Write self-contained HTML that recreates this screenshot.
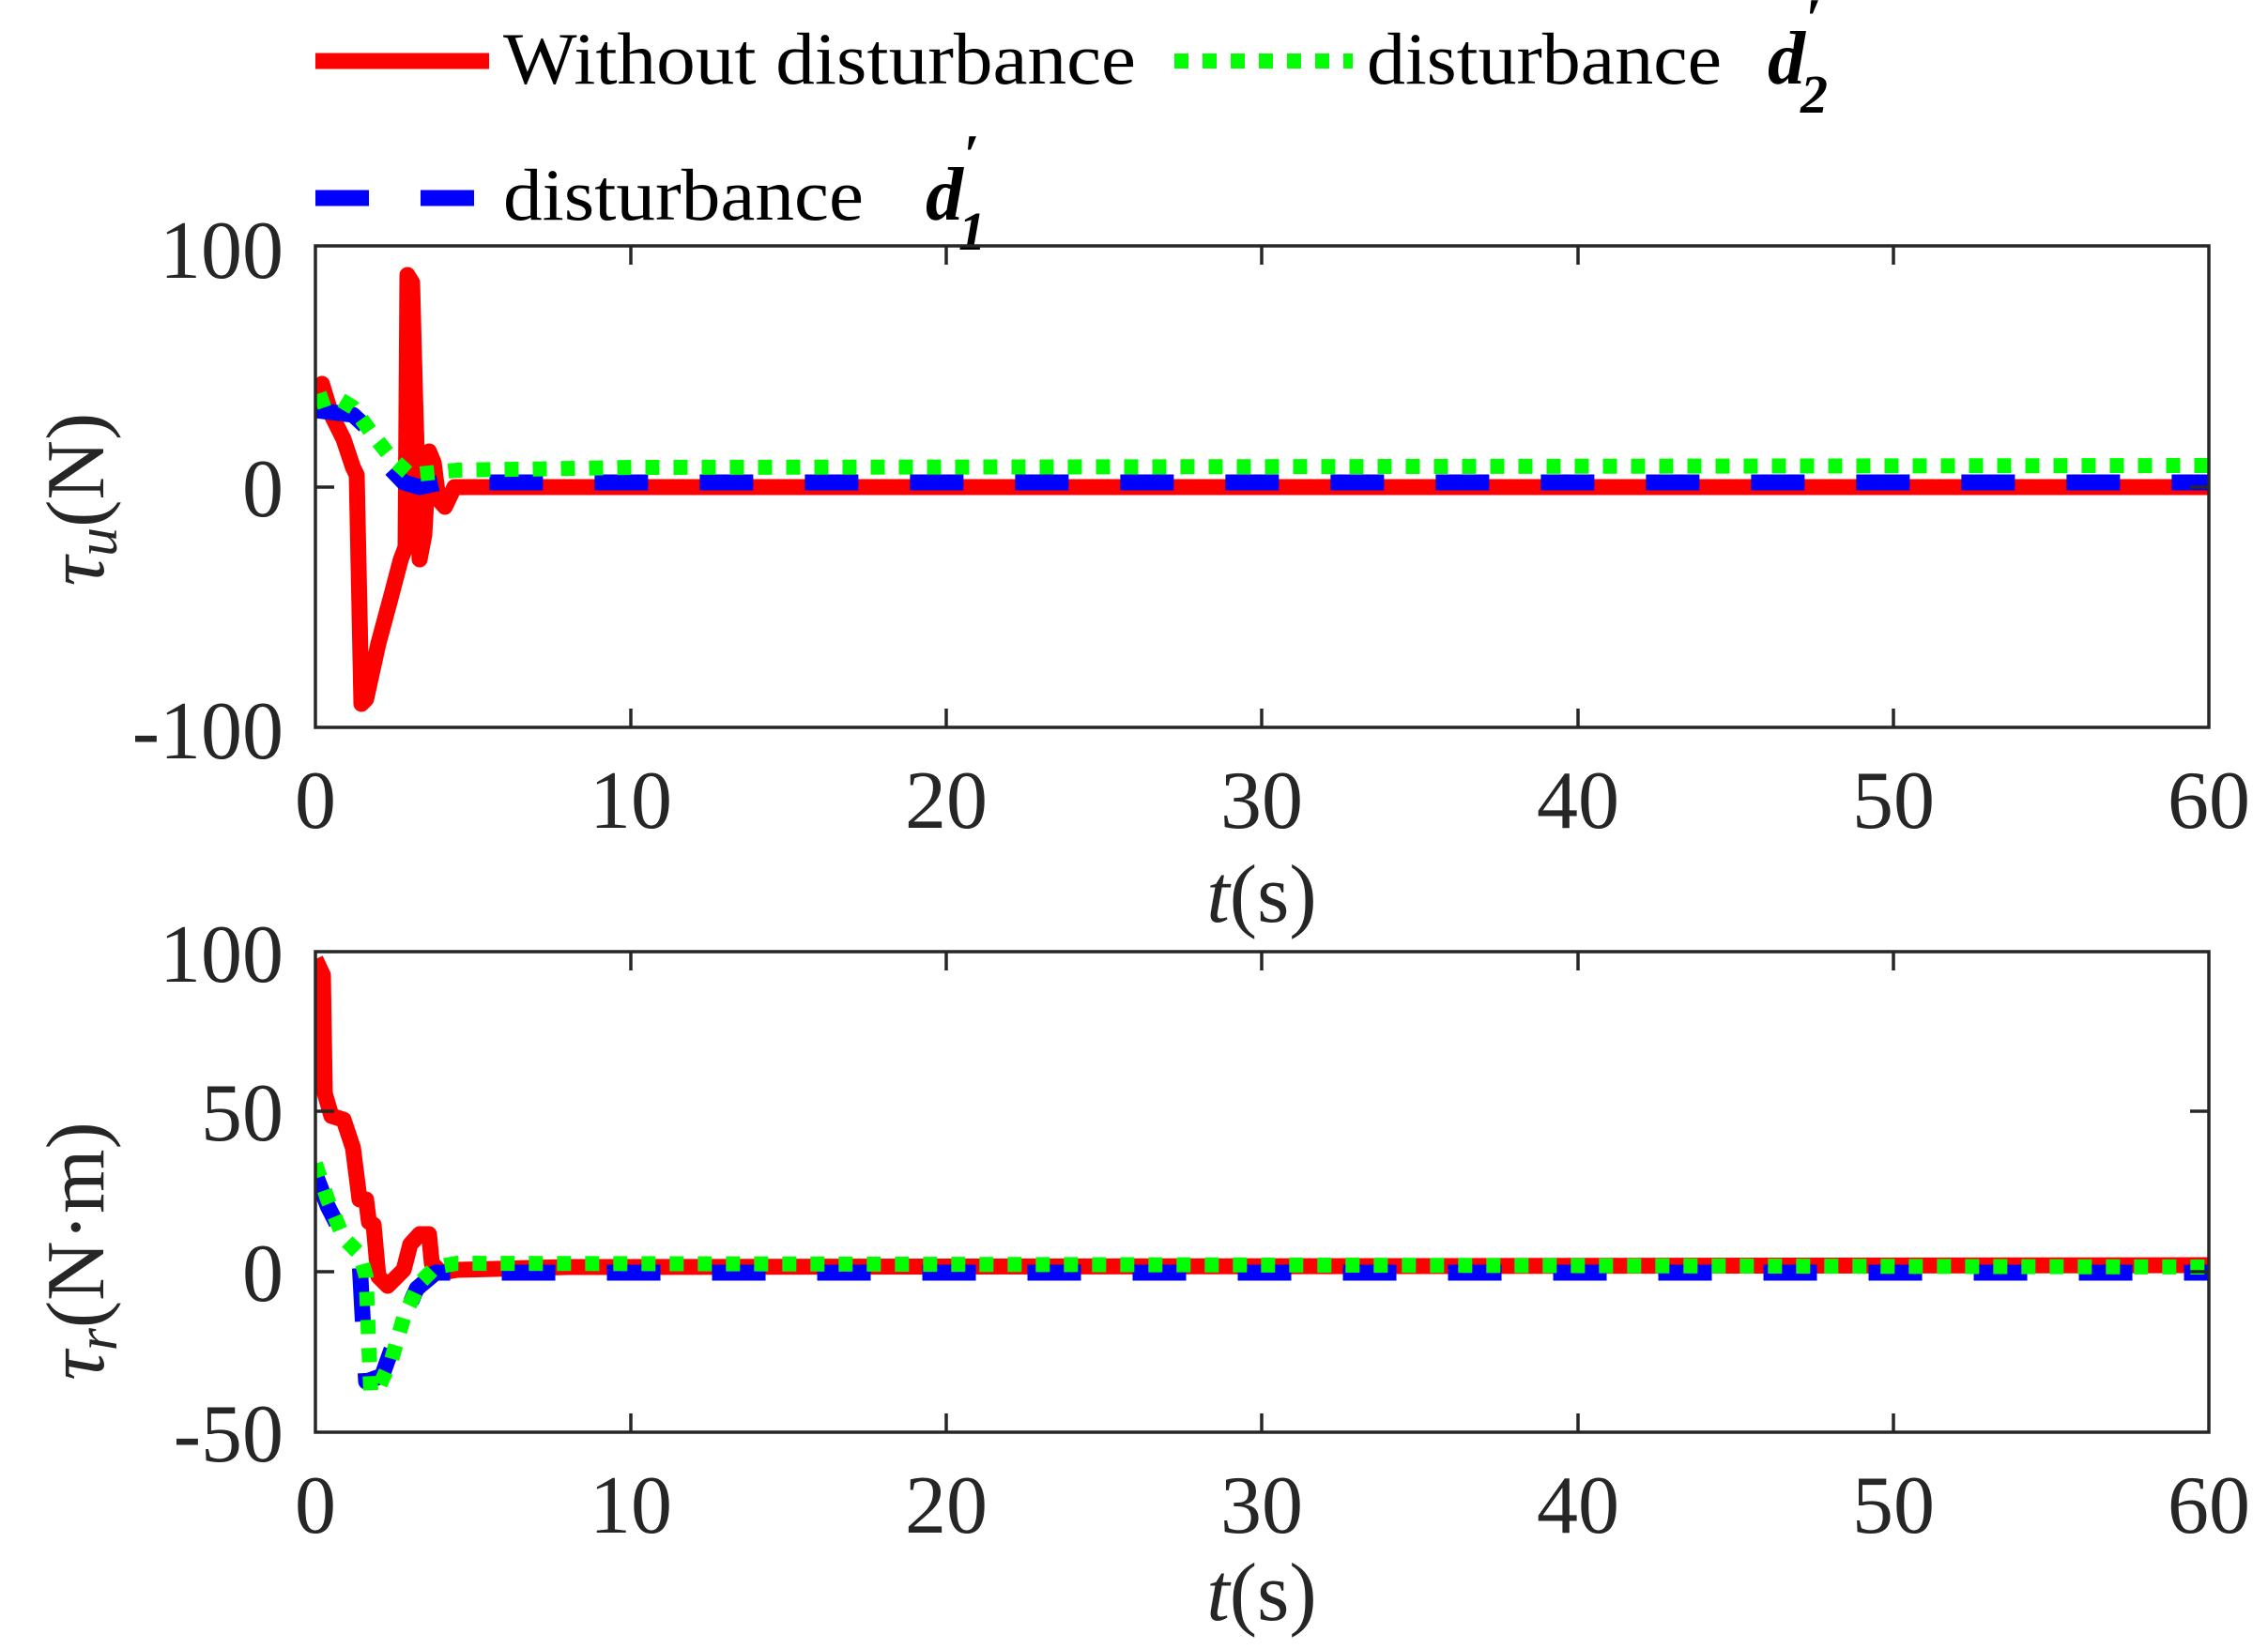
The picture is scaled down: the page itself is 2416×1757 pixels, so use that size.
<!DOCTYPE html>
<html><head><meta charset="utf-8"><style>
html,body{margin:0;padding:0;background:#fff}
svg{display:block}
text{font-family:"Liberation Serif","DejaVu Serif",serif;fill:#262626}
</style></head><body>
<svg width="2416" height="1757" viewBox="0 0 2416 1757" xmlns="http://www.w3.org/2000/svg">
<defs>
<clipPath id="c1"><rect x="336" y="262" width="2017" height="513"/></clipPath>
<clipPath id="c2"><rect x="336" y="1014" width="2017" height="512"/></clipPath>
</defs>
<!-- Legend -->
<line x1="336" y1="65" x2="521" y2="65" stroke="#ff0000" stroke-width="17"/>
<text x="536" y="89" font-size="78" textLength="674" lengthAdjust="spacingAndGlyphs" style="fill:#000">Without disturbance</text>
<line x1="1251" y1="65" x2="1441" y2="65" stroke="#00ff00" stroke-width="16" stroke-dasharray="15 15"/>
<text x="1456" y="89" font-size="78" textLength="378" lengthAdjust="spacingAndGlyphs" style="fill:#000">disturbance</text>
<text x="1883" y="89" font-size="80" font-style="italic" font-weight="bold" style="fill:#000">d</text>
<text x="1924" y="40" font-size="60" font-weight="bold" style="fill:#000">′</text>
<text x="1918" y="120" font-size="58" font-style="italic" font-weight="bold" style="fill:#000">2</text>
<line x1="336" y1="211" x2="509" y2="211" stroke="#0000ff" stroke-width="17" stroke-dasharray="57 55"/>
<text x="536" y="234" font-size="78" textLength="384" lengthAdjust="spacingAndGlyphs" style="fill:#000">disturbance</text>
<text x="986" y="234" font-size="80" font-style="italic" font-weight="bold" style="fill:#000">d</text>
<text x="1027" y="185" font-size="60" font-weight="bold" style="fill:#000">′</text>
<text x="1021" y="266" font-size="58" font-style="italic" font-weight="bold" style="fill:#000">1</text>

<!-- Top axes -->
<g clip-path="url(#c1)" fill="none" stroke-linejoin="round">
<polyline stroke="#ff0000" stroke-width="17" points="336,429 343,409 353,442 366,468 376,498 380,506 385,750 390,745 403,686 417,634 427,596 432,583 434,293 439,301 442,416 447,596 452,570 457,481 462,493 467,532 474,540 484,519 2353,519"/>
<polyline stroke="#ff0000" stroke-width="12" points="436,300 440,330 444,420 446,470 448,560"/>
<polyline stroke="#0000ff" stroke-width="17" stroke-dasharray="57 55" points="336,437 376,442 390,455 410,493 430,514 447,519 470,514 2353,514"/>
<polyline stroke="#00ff00" stroke-width="16" stroke-dasharray="15 15" points="336,429 356,422 376,434 397,463 417,488 437,506 457,504 487,501 672,498 2353,496"/>
</g>
<rect x="336" y="262" width="2017" height="513" fill="none" stroke="#262626" stroke-width="3.5"/>
<g stroke="#262626" stroke-width="3.5">
<line x1="672" y1="262" x2="672" y2="282"/><line x1="1008" y1="262" x2="1008" y2="282"/><line x1="1344" y1="262" x2="1344" y2="282"/><line x1="1681" y1="262" x2="1681" y2="282"/><line x1="2017" y1="262" x2="2017" y2="282"/>
<line x1="672" y1="775" x2="672" y2="755"/><line x1="1008" y1="775" x2="1008" y2="755"/><line x1="1344" y1="775" x2="1344" y2="755"/><line x1="1681" y1="775" x2="1681" y2="755"/><line x1="2017" y1="775" x2="2017" y2="755"/>
<line x1="336" y1="519" x2="356" y2="519"/><line x1="2353" y1="519" x2="2333" y2="519"/>
</g>
<g font-size="88" text-anchor="end">
<text x="302" y="296">100</text><text x="302" y="550">0</text><text x="302" y="808">-100</text>
</g>
<g font-size="88" text-anchor="middle">
<text x="336" y="882">0</text><text x="672" y="882">10</text><text x="1008" y="882">20</text><text x="1344" y="882">30</text><text x="1681" y="882">40</text><text x="2017" y="882">50</text><text x="2353" y="882">60</text>
</g>
<text x="1344" y="982" font-size="88" text-anchor="middle"><tspan font-style="italic">t</tspan>(s)</text>
<text transform="translate(110,532) rotate(-90)" font-size="88" text-anchor="middle"><tspan font-style="italic">τ</tspan><tspan font-style="italic" font-size="62" dy="14">u</tspan><tspan dy="-14">(N)</tspan></text>

<!-- Bottom axes -->
<g clip-path="url(#c2)" fill="none" stroke-linejoin="round">
<polyline stroke="#ff0000" stroke-width="17" points="336,1022 344,1039 346,1165 353,1189 366,1193 376,1223 383,1278 390,1278 393,1302 398,1305 403,1360 413,1370 430,1353 437,1326 447,1315 457,1315 460,1346 470,1356 487,1353 605,1350 2353,1348"/>
<polyline stroke="#0000ff" stroke-width="17" stroke-dasharray="57 55" points="336,1251 349,1285 370,1326 383,1343 390,1472 407,1466 423,1421 444,1373 464,1356 2353,1356"/>
<polyline stroke="#00ff00" stroke-width="16" stroke-dasharray="15 15" points="336,1240 349,1278 366,1319 383,1336 390,1360 393,1438 395,1483 403,1479 417,1449 430,1404 447,1367 464,1350 487,1346 2353,1350"/>
</g>
<rect x="336" y="1014" width="2017" height="512" fill="none" stroke="#262626" stroke-width="3.5"/>
<g stroke="#262626" stroke-width="3.5">
<line x1="672" y1="1014" x2="672" y2="1034"/><line x1="1008" y1="1014" x2="1008" y2="1034"/><line x1="1344" y1="1014" x2="1344" y2="1034"/><line x1="1681" y1="1014" x2="1681" y2="1034"/><line x1="2017" y1="1014" x2="2017" y2="1034"/>
<line x1="672" y1="1526" x2="672" y2="1506"/><line x1="1008" y1="1526" x2="1008" y2="1506"/><line x1="1344" y1="1526" x2="1344" y2="1506"/><line x1="1681" y1="1526" x2="1681" y2="1506"/><line x1="2017" y1="1526" x2="2017" y2="1506"/>
<line x1="336" y1="1184" x2="356" y2="1184"/><line x1="2353" y1="1184" x2="2333" y2="1184"/>
<line x1="336" y1="1355" x2="356" y2="1355"/><line x1="2353" y1="1355" x2="2333" y2="1355"/>
</g>
<g font-size="88" text-anchor="end">
<text x="302" y="1046">100</text><text x="302" y="1215">50</text><text x="302" y="1386">0</text><text x="302" y="1557">-50</text>
</g>
<g font-size="88" text-anchor="middle">
<text x="336" y="1633">0</text><text x="672" y="1633">10</text><text x="1008" y="1633">20</text><text x="1344" y="1633">30</text><text x="1681" y="1633">40</text><text x="2017" y="1633">50</text><text x="2353" y="1633">60</text>
</g>
<text x="1344" y="1726" font-size="88" text-anchor="middle"><tspan font-style="italic">t</tspan>(s)</text>
<text transform="translate(110,1333) rotate(-90)" font-size="88" text-anchor="middle"><tspan font-style="italic">τ</tspan><tspan font-style="italic" font-size="62" dy="14">r</tspan><tspan dy="-14">(N·m)</tspan></text>
</svg>
</body></html>
